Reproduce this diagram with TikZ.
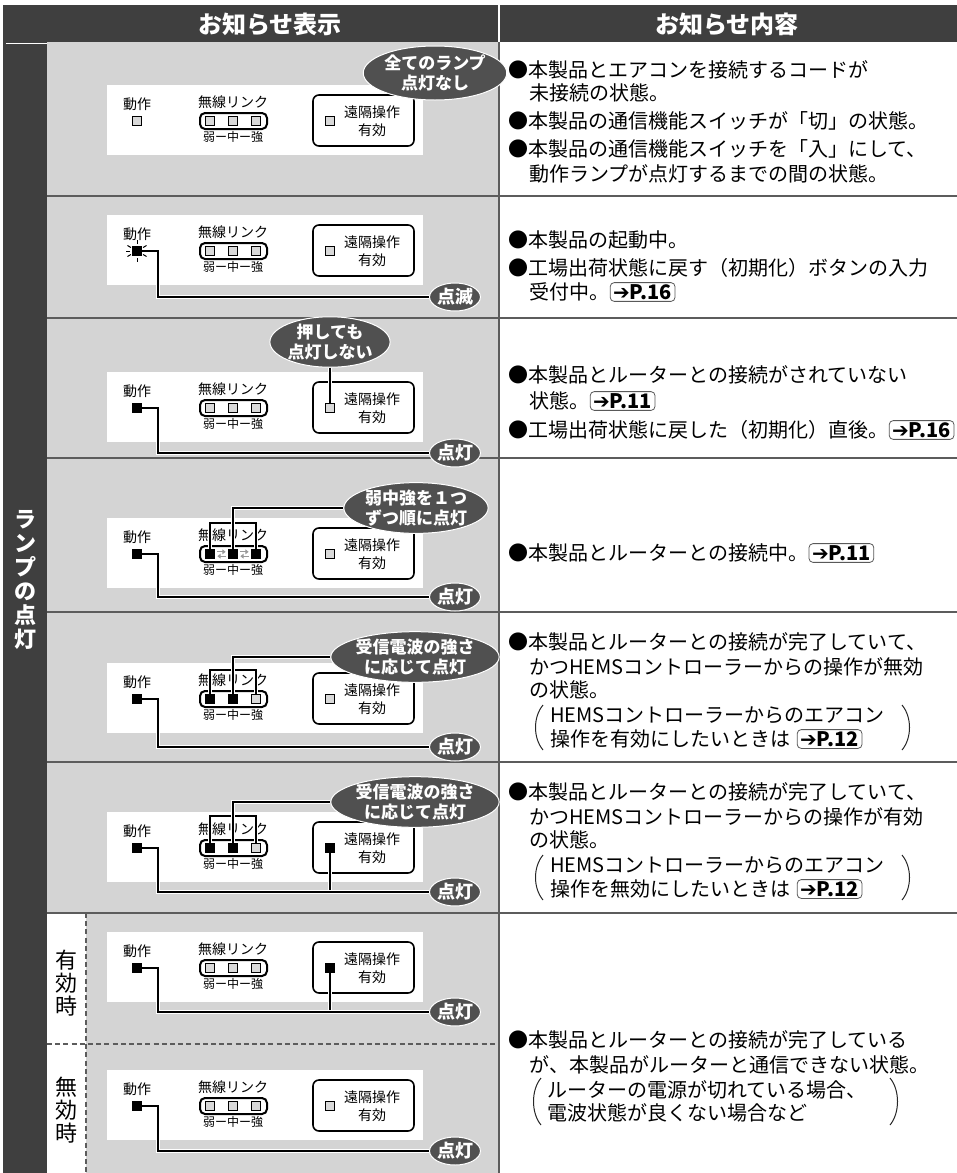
\documentclass[tikz,border=0pt]{standalone}
\usepackage{fontspec}
\newfontfamily\jp{Noto Sans CJK JP}
\newfontfamily\symfont{DejaVu Sans}
\usepackage{tikz}
\usetikzlibrary{positioning, shapes.geometric, arrows.meta}
\definecolor{hdr}{HTML}{3F3F3F}
\definecolor{panelgray}{HTML}{D4D4D4}
\definecolor{badgegray}{HTML}{505050}
\definecolor{rulegray}{HTML}{5C5C5C}
\newcommand{\notefont}{\jp\fontsize{10}{12}\selectfont}
\newcommand{\panelfont}{\jp\fontsize{7}{9}\selectfont}
\newcommand{\badgefont}{\jp\bfseries\fontsize{8.5}{9.8}\selectfont}
\tikzset{
    headtext/.style={text=white, font=\jp\bfseries\fontsize{12}{14}\selectfont, inner sep=0pt},
    sidetext/.style={text=white, align=center, font=\jp\bfseries\fontsize{11}{12}\selectfont, inner sep=0pt},
    modetext/.style={align=center, font=\jp\fontsize{11}{11.5}\selectfont, inner sep=0pt},
    rowline/.style={draw=rulegray, line width=1pt},
    dashrule/.style={draw=rulegray, line width=0.8pt, dash pattern=on 2.5pt off 1.6pt},
    plabel/.style={font=\panelfont, inner sep=0pt},
    barlabel/.style={font=\jp\fontsize{6}{7}\selectfont, inner sep=0pt},
    lampoff/.style={draw=black, fill=gray!30, line width=0.45pt, minimum size=4.2pt, inner sep=0pt},
    lampon/.style={draw=black, fill=black, minimum size=4.6pt, inner sep=0pt},
    linkbox/.style={draw=black, line width=1pt, rounded corners=2.5pt},
    remotebox/.style={draw=black, line width=0.8pt, rounded corners=3pt},
    wire/.style={draw=white, line width=2pt, postaction={draw=black, line width=0.8pt}},
    ray/.style={draw=black, line width=0.5pt},
    flow/.style={draw=gray!80, line width=0.6pt, -{Triangle[length=1.6pt,width=2.4pt]},
        shorten <=1.2pt, shorten >=1.2pt},
    badge/.style={ellipse, fill=badgegray, draw=white, line width=0.5pt, text=white,
        align=center, font=\badgefont, inner sep=0pt},
    tagbadge/.style={badge, minimum width=24pt, minimum height=14pt,
        font=\jp\bfseries\fontsize{9}{10}\selectfont},
    note/.style={anchor=west, font=\notefont, inner sep=0pt},
    pref/.style={draw=gray!70!black, rounded corners=2pt, line width=0.4pt,
        font=\jp\bfseries\fontsize{10}{12}\selectfont, inner xsep=1.5pt, inner ysep=0.9pt},
    paren/.style={draw=black!85, line width=0.5pt}
}
% one indicator panel: #1 row id, #2 top y, #3 operation lamp, #4-#6 link lamps, #7 remote lamp
\newcommand{\ctlpanel}[7]{%
    \fill[white] (107,#2) rectangle (423,#2+70);
    \node[plabel] (opl#1) at (137,#2+19) {動作};
    \node[#3] (op#1) at (137,#2+36) {};
    \node[plabel] (lkl#1) at (233,#2+17) {無線リンク};
    \draw[linkbox] (200,#2+28) rectangle (267,#2+44);
    \node[#4] (lw#1) at (210,#2+36) {};
    \node[#5] (lm#1) at (233,#2+36) {};
    \node[#6] (ls#1) at (256,#2+36) {};
    \node[barlabel] (lks#1) at (233,#2+52) {弱ー中ー強};
    \draw[remotebox] (313,#2+10) rectangle (414,#2+61);
    \node[#7] (rm#1) at (330,#2+36) {};
    \node[plabel, align=center] (rml#1) at (372,#2+36) {遠隔操作\\有効};
}
% lit tag and its wire from the operation lamp
\newcommand{\littag}[3]{%
    \node[tagbadge] (tag#1) at (455,#2) {#3};
    \coordinate (bend#1) at (158,#2);
    \draw[wire] (op#1.east) -| (bend#1) -- (tag#1);
}

\begin{document}
\begin{tikzpicture}[x=0.5pt,y=-0.5pt]
\useasboundingbox (0,0) rectangle (957,1173);
% header
\fill[hdr] (3,5) rectangle (957,42);
\draw[white, line width=0.6pt] (499,5) -- (499,42);
\node[headtext] (hleft) at (270,24) {お知らせ表示};
\node[headtext] (hright) at (727,24) {お知らせ内容};
% side column and grey area
\fill[hdr] (3,42) rectangle (47,1173);
\draw[white, line width=0.8pt] (6,43.5) -- (47,43.5);
\node[sidetext] (side) at (25,580) {ラ\\ン\\プ\\の\\点\\灯};
\fill[panelgray] (47,42) rectangle (498,1173);
\fill[white] (47,913) rectangle (86,1173);
\foreach \y in {196,318,458,612,762,913}
    \draw[rowline] (47,\y) -- (957,\y);
\draw[rowline] (499,42) -- (499,1173);
\draw[dashrule] (86,913) -- (86,1173);
\draw[dashrule] (47,1044) -- (498,1044);
\node[modetext] (mon) at (66,983) {有\\効\\時};
\node[modetext] (moff) at (66,1110) {無\\効\\時};

% row a
\ctlpanel{a}{85}{lampoff}{lampoff}{lampoff}{lampoff}{lampoff}
\node[badge, minimum width=56pt, minimum height=27pt] (alla) at (435,73) {全てのランプ\\点灯なし};

% row b
\ctlpanel{b}{215}{lampon}{lampoff}{lampoff}{lampoff}{lampoff}
\foreach \a in {30,90,150,180,210,270,330}
    \draw[ray] ([shift={(\a:7)}]opb.center) -- ([shift={(\a:11)}]opb.center);
\littag{b}{297}{点滅}

% row c
\ctlpanel{c}{372}{lampon}{lampoff}{lampoff}{lampoff}{lampoff}
\node[badge, minimum width=53pt, minimum height=22pt] (pushc) at (330,342) {押しても\\点灯しない};
\draw[wire] (pushc) -- (rmc);
\littag{c}{453}{点灯}

% row d
\ctlpanel{d}{518}{lampon}{lampon}{lampon}{lampon}{lampoff}
\draw[flow] ([yshift=1.1pt]lwd.east) -- ([yshift=1.1pt]lmd.west);
\draw[flow] ([yshift=-1.1pt]lmd.west) -- ([yshift=-1.1pt]lwd.east);
\draw[flow] ([yshift=1.1pt]lmd.east) -- ([yshift=1.1pt]lsd.west);
\draw[flow] ([yshift=-1.1pt]lsd.west) -- ([yshift=-1.1pt]lmd.east);
\node[badge, minimum width=68pt, minimum height=25pt] (seqd) at (416,508) {弱中強を１つ\\ずつ順に点灯};
\coordinate (brd) at (256,523);
\draw[wire] (lwd) |- (brd) -- (lsd);
\draw[wire] (lmd) |- (seqd);
\littag{d}{597}{点灯}

% row e
\ctlpanel{e}{663}{lampon}{lampon}{lampon}{lampoff}{lampoff}
\node[badge, minimum width=68pt, minimum height=24pt] (rsse) at (415,657) {受信電波の強さ\\に応じて点灯};
\coordinate (bre) at (256,670);
\draw[wire] (lwe) |- (bre) -- (lse);
\draw[wire] (lme) |- (rsse);
\littag{e}{747}{点灯}

% row f
\ctlpanel{f}{812}{lampon}{lampon}{lampon}{lampoff}{lampon}
\node[badge, minimum width=68pt, minimum height=24pt] (rssf) at (415,802) {受信電波の強さ\\に応じて点灯};
\coordinate (brf) at (256,816);
\draw[wire] (lwf) |- (brf) -- (lsf);
\draw[wire] (lmf) |- (rssf);
\draw[wire] (rmf) -- (330,892);
\littag{f}{892}{点灯}

% row g (enabled)
\ctlpanel{g}{932}{lampon}{lampoff}{lampoff}{lampoff}{lampon}
\draw[wire] (rmg) -- (330,1012);
\littag{g}{1012}{点灯}

% row h (disabled)
\ctlpanel{h}{1070}{lampon}{lampoff}{lampoff}{lampoff}{lampoff}
\littag{h}{1151}{点灯}

% notes
\node[note] (a1) at (508,70) {●本製品とエアコンを接続するコードが};
\node[note] (a2) at (529,93) {未接続の状態。};
\node[note] (a3) at (508,121) {●本製品の通信機能スイッチが「切」の状態。};
\node[note] (a4) at (508,149) {●本製品の通信機能スイッチを「入」にして、};
\node[note] (a5) at (529,174) {動作ランプが点灯するまでの間の状態。};

\node[note] (b1) at (508,240) {●本製品の起動中。};
\node[note] (b2) at (508,268) {●工場出荷状態に戻す（初期化）ボタンの入力};
\node[note] (b3) at (529,292) {受付中。};
\node[pref, right=0pt of b3] (b3r) {{\symfont ➔}P.16};

\node[note] (c1) at (508,375) {●本製品とルーターとの接続がされていない};
\node[note] (c2) at (529,401) {状態。};
\node[pref, right=0pt of c2] (c2r) {{\symfont ➔}P.11};
\node[note] (c3) at (508,430) {●工場出荷状態に戻した（初期化）直後。};
\node[pref, right=0pt of c3] (c3r) {{\symfont ➔}P.16};

\node[note] (d1) at (508,553) {●本製品とルーターとの接続中。};
\node[pref, right=0pt of d1] (d1r) {{\symfont ➔}P.11};

\node[note] (e1) at (508,642) {●本製品とルーターとの接続が完了していて、};
\node[note] (e2) at (529,667) {かつHEMSコントローラーからの操作が無効};
\node[note] (e3) at (529,690) {の状態。};
\node[note] (e4) at (550,715) {HEMSコントローラーからのエアコン};
\node[note] (e5) at (550,739) {操作を有効にしたいときは};
\node[pref, right=3pt of e5] (e5r) {{\symfont ➔}P.12};
\draw[paren] (543,705) .. controls (533,717) and (533,738) .. (543,750);
\draw[paren] (902,705) .. controls (912,717) and (912,738) .. (902,750);

\node[note] (f1) at (508,792) {●本製品とルーターとの接続が完了していて、};
\node[note] (f2) at (529,817) {かつHEMSコントローラーからの操作が有効};
\node[note] (f3) at (529,840) {の状態。};
\node[note] (f4) at (550,865) {HEMSコントローラーからのエアコン};
\node[note] (f5) at (550,889) {操作を無効にしたいときは};
\node[pref, right=3pt of f5] (f5r) {{\symfont ➔}P.12};
\draw[paren] (543,855) .. controls (533,867) and (533,888) .. (543,900);
\draw[paren] (902,855) .. controls (912,867) and (912,888) .. (902,900);

\node[note] (g1) at (508,1040) {●本製品とルーターとの接続が完了している};
\node[note] (g2) at (529,1065) {が、本製品がルーターと通信できない状態。};
\node[note] (g3) at (547,1090) {ルーターの電源が切れている場合、};
\node[note] (g4) at (547,1113) {電波状態が良くない場合など};
\draw[paren] (541,1078) .. controls (531,1090) and (531,1113) .. (541,1125);
\draw[paren] (890,1078) .. controls (900,1090) and (900,1113) .. (890,1125);
\end{tikzpicture}
\end{document}
